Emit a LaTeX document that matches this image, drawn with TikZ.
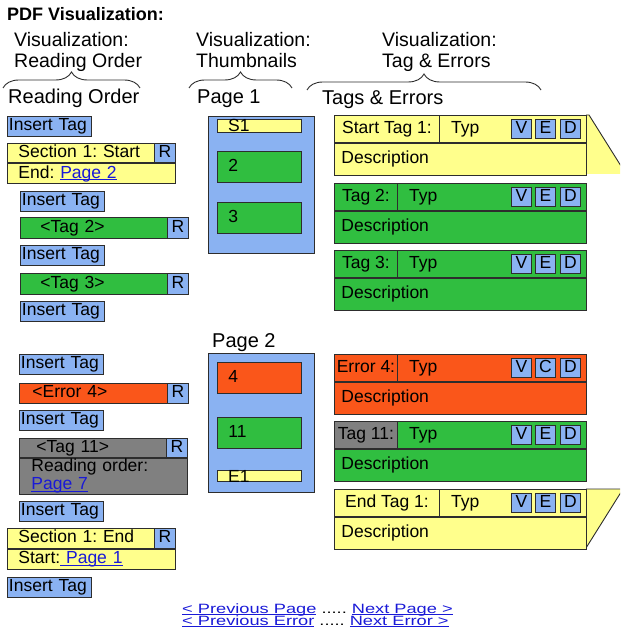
\documentclass[tikz,border=0pt]{standalone}
\usepackage{fontspec}
\usepackage{graphicx}
\setmainfont{Liberation Sans}
\usetikzlibrary{positioning,decorations.pathreplacing}
\frenchspacing

\definecolor{edge}{RGB}{45,45,45}
\definecolor{tagblue}{RGB}{138,178,242}
\definecolor{taggreen}{RGB}{48,190,64}
\definecolor{tagyellow}{RGB}{255,255,140}
\definecolor{tagred}{RGB}{250,86,26}
\definecolor{taggray}{RGB}{128,128,128}
\definecolor{linkblue}{RGB}{25,25,215}

\newcommand{\bodysize}{\fontsize{17.5}{18}\selectfont}
\newcommand{\headsize}{\fontsize{20}{24}\selectfont}
% blue link text, underlined just below the baseline
\newcommand{\pagelink}[1]{\leavevmode{\color{linkblue}\setbox0=\hbox{#1}\rlap{\rule[-2pt]{\wd0}{1pt}}\box0}}
\newcommand{\navlink}[1]{\leavevmode{\color{linkblue}\setbox0=\hbox{#1}\rlap{\rule[-1.6pt]{\wd0}{0.8pt}}\box0}}

\tikzset{
  cell/.style={draw=edge, line width=0.9pt, anchor=north west, inner sep=0pt, font=\bodysize,
    text height=12.5pt, text depth=3.5pt, align=left},
  bar/.style={cell, text height=0pt, text depth=0pt},
  inserttag/.style={cell, fill=tagblue, minimum height=20pt, inner xsep=1.5pt, text width=81pt},
  rbox/.style={cell, fill=tagblue, anchor=north east, minimum width=21pt, align=center},
  btn/.style={cell, fill=tagblue, minimum width=20pt, minimum height=19pt, align=center},
  thumb/.style={cell, minimum width=84pt, minimum height=31pt, inner xsep=11pt, text width=62pt},
  tagname/.style={cell, minimum height=27pt, align=center},
  desc/.style={cell, minimum height=32pt, inner xsep=7pt, text width=238pt},
  plain/.style={inner sep=0pt, font=\bodysize},
  heading/.style={inner sep=0pt, anchor=base west, font=\headsize},
  vislabel/.style={inner sep=0pt, anchor=north west, align=left, font=\fontsize{19.5}{21}\selectfont},
  bracket/.style={draw=edge, line width=0.9pt, decorate, decoration={brace, amplitude=16pt}},
  navline/.style={inner sep=0pt, anchor=base west, font=\fontsize{13.5}{14}\selectfont},
}

\begin{document}
\begin{tikzpicture}[x=1pt,y=-1pt]
\clip (0,0) rectangle (620,636);

% titles and braces
\node[inner sep=0pt, anchor=base west, font=\bfseries\fontsize{18}{20}\selectfont] (title) at (7,21) {PDF Visualization:};
\node[vislabel] (visread) at (14,32) {Visualization:\\Reading Order};
\node[vislabel] (visthumb) at (196,32) {Visualization:\\Thumbnails};
\node[vislabel] (vistag) at (382,32) {Visualization:\\Tag \& Errors};
\draw[bracket] (3,88) -- (140,88);
\draw[bracket] (189,88) -- (292,88);
\draw[bracket] (307,90) -- (541,90);

\node[heading] (readhead) at (8,104) {Reading Order};
\node[heading] (page1head) at (197,104) {Page 1};
\node[heading] (taghead) at (322,105) {Tags \& Errors};
\node[heading] (page2head) at (212,347) {Page 2};

% reading order column
\node[inserttag] (ins1) at (7,116) {Insert Tag};
\node[cell, fill=tagyellow, minimum height=19.5pt, inner xsep=11pt, text width=146pt] (secstart) at (7,143) {Section 1: Start};
\node[rbox, minimum height=19.5pt] (secstartr) at (secstart.north east) {R};
\node[cell, fill=tagyellow, minimum height=19.5pt, inner xsep=11pt, text width=146pt] (secstartend) at (secstart.south west) {End: \pagelink{Page 2}};
\node[inserttag] (ins2) at (20,191) {Insert Tag};
\node[cell, fill=taggreen, minimum height=21pt, inner xsep=20pt, text width=128pt] (tag2) at (20,217) {<Tag 2>};
\node[rbox, minimum height=21pt] (tag2r) at (tag2.north east) {R};
\node[inserttag] (ins3) at (20,245) {Insert Tag};
\node[cell, fill=taggreen, minimum height=21pt, inner xsep=20pt, text width=128pt] (tag3) at (20,273) {<Tag 3>};
\node[rbox, minimum height=21pt] (tag3r) at (tag3.north east) {R};
\node[inserttag] (ins4) at (20,301) {Insert Tag};

\node[inserttag] (ins5) at (19,354) {Insert Tag};
\node[cell, fill=tagred, minimum height=20pt, inner xsep=13pt, text width=143pt] (err4) at (19,383) {<Error 4>};
\node[rbox, minimum height=20pt] (err4r) at (err4.north east) {R};
\node[inserttag] (ins6) at (19,410) {Insert Tag};
\node[cell, fill=taggray, minimum height=19pt, inner xsep=17pt, text width=134pt] (tag11) at (19,438) {<Tag 11>};
\node[rbox, minimum height=19pt] (tag11r) at (tag11.north east) {R};
\node[cell, fill=taggray, minimum height=36pt, inner xsep=12pt, text width=144pt, text height=, text depth=] (tag11body) at (tag11.south west) {Reading order:\\\pagelink{Page 7}};
\node[inserttag] (ins7) at (19,501) {Insert Tag};
\node[cell, fill=tagyellow, minimum height=20pt, inner xsep=11pt, text width=146pt] (secend) at (7,528) {Section 1: End};
\node[rbox, minimum height=20pt] (secendr) at (secend.north east) {R};
\node[cell, fill=tagyellow, minimum height=20pt, inner xsep=11pt, text width=146pt] (secendstart) at (secend.south west) {Start:\pagelink{ Page 1}};
\node[inserttag] (ins8) at (7,577) {Insert Tag};

% thumbnails
\node[cell, fill=tagblue, minimum width=106pt, minimum height=137pt, text height=0pt, text depth=0pt] (page1) at (208,116) {};
\node[bar, fill=tagyellow, minimum width=84pt, minimum height=13pt] (s1bar) at (217,119) {};
\node[plain, anchor=base west] (s1) at (228,132) {S1};
\node[thumb, fill=taggreen] (th2) at (217,151) {2};
\node[thumb, fill=taggreen] (th3) at (217,202) {3};

\node[cell, fill=tagblue, minimum width=106pt, minimum height=139pt, text height=0pt, text depth=0pt] (page2) at (208,353) {};
\node[thumb, fill=tagred] (th4) at (217,362) {4};
\node[thumb, fill=taggreen] (th11) at (217,417) {11};
\node[bar, fill=tagyellow, minimum width=84pt, minimum height=11pt] (e1bar) at (217,470) {};
\node[plain, anchor=base west] (e1) at (228,482) {E1};

% tags and errors column
\fill[tagyellow] (586,115) -- (589,115) -- (626,174) -- (586,174) -- cycle;
\draw[edge, line width=0.9pt] (586,115) -- (589,115) -- (626,174);
\fill[tagyellow] (586,489) -- (623,489) -- (586,548) -- cycle;
\draw[edge, line width=0.9pt] (586,489) -- (623,489) -- (586,548);

\node[bar, fill=tagyellow, minimum width=252pt, minimum height=27pt] (st1head) at (334,115) {};
\node[tagname, fill=tagyellow, minimum width=105pt] (st1name) at (334,115) {Start Tag 1:};
\node[plain, right=11pt of st1name] (st1typ) {Typ};
\node[btn] (st1v) at (511,119) {V};
\node[btn] (st1e) at (535,119) {E};
\node[btn] (st1d) at (560,119) {D};
\node[desc, fill=tagyellow] (st1desc) at (st1head.south west) {Description};

\node[bar, fill=taggreen, minimum width=252pt, minimum height=27pt] (t2head) at (334,183) {};
\node[tagname, fill=taggreen, minimum width=63pt] (t2name) at (334,183) {Tag 2:};
\node[plain, right=11pt of t2name] (t2typ) {Typ};
\node[btn] (t2v) at (511,187) {V};
\node[btn] (t2e) at (535,187) {E};
\node[btn] (t2d) at (560,187) {D};
\node[desc, fill=taggreen] (t2desc) at (t2head.south west) {Description};

\node[bar, fill=taggreen, minimum width=252pt, minimum height=27pt] (t3head) at (334,250) {};
\node[tagname, fill=taggreen, minimum width=63pt] (t3name) at (334,250) {Tag 3:};
\node[plain, right=11pt of t3name] (t3typ) {Typ};
\node[btn] (t3v) at (511,254) {V};
\node[btn] (t3e) at (535,254) {E};
\node[btn] (t3d) at (560,254) {D};
\node[desc, fill=taggreen] (t3desc) at (t3head.south west) {Description};

\node[bar, fill=tagred, minimum width=252pt, minimum height=27pt] (e4head) at (334,354) {};
\node[tagname, fill=tagred, minimum width=63pt] (e4name) at (334,354) {Error 4:};
\node[plain, right=11pt of e4name] (e4typ) {Typ};
\node[btn] (e4v) at (511,358) {V};
\node[btn] (e4c) at (535,358) {C};
\node[btn] (e4d) at (560,358) {D};
\node[desc, fill=tagred] (e4desc) at (e4head.south west) {Description};

\node[bar, fill=taggreen, minimum width=252pt, minimum height=27pt] (t11head) at (334,421) {};
\node[tagname, fill=taggray, minimum width=63pt] (t11name) at (334,421) {Tag 11:};
\node[plain, right=11pt of t11name] (t11typ) {Typ};
\node[btn] (t11v) at (511,425) {V};
\node[btn] (t11e) at (535,425) {E};
\node[btn] (t11d) at (560,425) {D};
\node[desc, fill=taggreen] (t11desc) at (t11head.south west) {Description};

\node[bar, fill=tagyellow, minimum width=252pt, minimum height=27pt] (et1head) at (334,489) {};
\node[tagname, fill=tagyellow, minimum width=105pt] (et1name) at (334,489) {End Tag 1:};
\node[plain, right=11pt of et1name] (et1typ) {Typ};
\node[btn] (et1v) at (511,493) {V};
\node[btn] (et1e) at (535,493) {E};
\node[btn] (et1d) at (560,493) {D};
\node[desc, fill=tagyellow] (et1desc) at (et1head.south west) {Description};

% page and error navigation
\node[navline] (navpage) at (182,613) {\scalebox{1.35}[1]{\navlink{< Previous Page} ..... \navlink{Next Page >}}};
\node[navline] (naverror) at (182,625) {\scalebox{1.35}[1]{\navlink{< Previous Error} ..... \navlink{Next Error >}}};
\end{tikzpicture}
\end{document}
